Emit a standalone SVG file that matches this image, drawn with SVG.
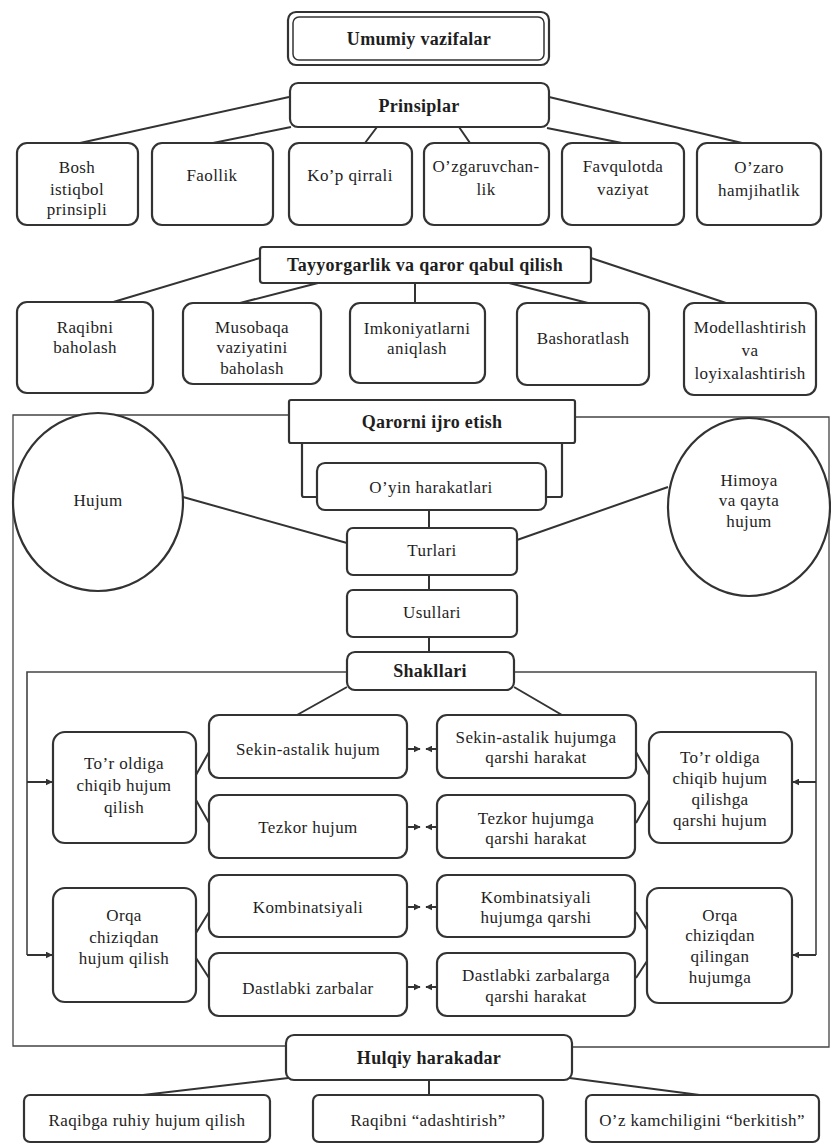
<svg xmlns="http://www.w3.org/2000/svg" width="831" height="1145" viewBox="0 0 831 1145" font-family="'Liberation Serif', 'Times New Roman', serif">
<defs>
<style>
.bg{fill:#fff}
.n{fill:#fff;stroke:#333;stroke-width:2.2}
.c{fill:none;stroke:#333;stroke-width:2}
.f{fill:none;stroke:#444;stroke-width:1.3}
text{font-family:"Liberation Serif","Times New Roman",serif;font-size:17px;letter-spacing:0.4px;fill:#1e1e1e;text-anchor:middle;dominant-baseline:central}
.b{font-weight:bold;font-size:18px;letter-spacing:0.3px}
</style>
<marker id="ah" viewBox="0 0 10 10" refX="9" refY="5" markerWidth="7" markerHeight="7" orient="auto" markerUnits="userSpaceOnUse">
<path d="M0,0 L10,5 L0,10 Z" fill="#333"/>
</marker>
</defs>
<rect class="bg" x="0" y="0" width="831" height="1145"/>

<g id="connectors">
<path class="c" d="M289,97 L80,143 M291,127 L213,143 M377,127 L365,143 M459,127 L470,143 M547,128 L622,143 M549,97 L742,143"/>
<path class="c" d="M260,258 L110,303 M318,283 L240,303 M415,283 L415,303 M509,283 L588,303 M591,258 L726,303"/>
<path class="f" d="M289,415 H13 V1046 H286 M572,1047 H829 V417 H575"/>
<path class="c" d="M429,510 V528 M183,497 L347,543 M517,540 L668,487 M429,575 V590 M429,637 V652 M347,687 L297,715 M514,687 L562,715"/>
<path class="f" style="stroke-width:1.6" d="M347,672 H27 V955 M514,672 H816 V955"/>
<line class="c" x1="27" y1="782" x2="52" y2="782" marker-end="url(#ah)"/>
<line class="c" x1="27" y1="955" x2="52" y2="955" marker-end="url(#ah)"/>
<line class="c" x1="816" y1="782" x2="793" y2="782" marker-end="url(#ah)"/>
<line class="c" x1="816" y1="955" x2="793" y2="955" marker-end="url(#ah)"/>
<path class="c" d="M196,775 L209,752 M196,800 L209,823 M636,752 L649,775 M636,823 L649,800 M196,933 L209,912 M196,958 L209,978 M636,912 L649,933 M636,978 L649,958"/>
<line class="c" x1="407" y1="749" x2="420" y2="749" marker-end="url(#ah)"/>
<line class="c" x1="437" y1="749" x2="426" y2="749" marker-end="url(#ah)"/>
<line class="c" x1="407" y1="827" x2="420" y2="827" marker-end="url(#ah)"/>
<line class="c" x1="437" y1="827" x2="426" y2="827" marker-end="url(#ah)"/>
<line class="c" x1="407" y1="907" x2="420" y2="907" marker-end="url(#ah)"/>
<line class="c" x1="437" y1="907" x2="426" y2="907" marker-end="url(#ah)"/>
<line class="c" x1="407" y1="987" x2="420" y2="987" marker-end="url(#ah)"/>
<line class="c" x1="437" y1="987" x2="426" y2="987" marker-end="url(#ah)"/>
<path class="c" d="M297,1077 L143,1095 M429,1080 V1095 M562,1077 L715,1097"/>
</g>

<g id="umumiy"><rect class="n" x="288" y="12" width="261" height="53" rx="8"/><rect class="n" x="293" y="17" width="251" height="43" rx="6" style="stroke-width:1.5"/><text class="b" x="419" y="39">Umumiy vazifalar</text></g>
<g id="prinsiplar"><rect class="n" x="290" y="83" width="259" height="44" rx="8"/><text class="b" x="419" y="106">Prinsiplar</text></g>

<g id="bosh"><rect class="n" x="17" y="143" width="121" height="82" rx="10"/><text x="77" y="167">Bosh</text><text x="77" y="189">istiqbol</text><text x="77" y="209">prinsipli</text></g>
<g id="faollik"><rect class="n" x="152" y="143" width="121" height="82" rx="10"/><text x="212" y="175">Faollik</text></g>
<g id="kop"><rect class="n" x="289" y="143" width="123" height="82" rx="10"/><text x="350" y="175">Ko’p qirrali</text></g>
<g id="ozgaruvchan"><rect class="n" x="424" y="143" width="125" height="82" rx="10"/><text x="486" y="166">O’zgaruvchan-</text><text x="486" y="189">lik</text></g>
<g id="favqulotda"><rect class="n" x="562" y="143" width="122" height="82" rx="10"/><text x="623" y="166">Favqulotda</text><text x="623" y="189">vaziyat</text></g>
<g id="ozaro"><rect class="n" x="697" y="143" width="124" height="82" rx="10"/><text x="759" y="167">O’zaro</text><text x="759" y="190">hamjihatlik</text></g>

<g id="tayyorgarlik"><rect class="n" x="260" y="247" width="331" height="36" rx="3"/><text class="b" x="425" y="265">Tayyorgarlik va qaror qabul qilish</text></g>

<g id="raqibni"><rect class="n" x="17" y="302" width="136" height="91" rx="10"/><text x="85" y="327">Raqibni</text><text x="85" y="347">baholash</text></g>
<g id="musobaqa"><rect class="n" x="183" y="303" width="138" height="81" rx="10"/><text x="252" y="327">Musobaqa</text><text x="252" y="347">vaziyatini</text><text x="252" y="368">baholash</text></g>
<g id="imkoniyat"><rect class="n" x="350" y="303" width="135" height="80" rx="10"/><text x="417" y="328">Imkoniyatlarni</text><text x="417" y="348">aniqlash</text></g>
<g id="bashorat"><rect class="n" x="517" y="303" width="132" height="82" rx="10"/><text x="583" y="338">Bashoratlash</text></g>
<g id="modellash"><rect class="n" x="684" y="303" width="132" height="92" rx="10"/><text x="750" y="327">Modellashtirish</text><text x="750" y="350">va</text><text x="750" y="373">loyixalashtirish</text></g>

<g id="hujum"><ellipse class="n" cx="98" cy="502" rx="85" ry="89"/><text x="98" y="500">Hujum</text></g>
<g id="himoya"><ellipse class="n" cx="749" cy="507" rx="81" ry="89"/><text x="749" y="480">Himoya</text><text x="749" y="500">va qayta</text><text x="749" y="521">hujum</text></g>

<g id="qarorni"><rect class="n" x="302" y="440" width="260" height="57" rx="2"/><rect class="n" x="289" y="400" width="286" height="43" rx="2"/><text class="b" x="432" y="422">Qarorni ijro etish</text></g>
<g id="oyin"><rect class="n" x="317" y="463" width="229" height="47" rx="8"/><text x="431" y="487">O’yin harakatlari</text></g>
<g id="turlari"><rect class="n" x="347" y="528" width="170" height="47" rx="6"/><text x="432" y="550">Turlari</text></g>
<g id="usullari"><rect class="n" x="347" y="590" width="170" height="47" rx="6"/><text x="432" y="612">Usullari</text></g>
<g id="shakllari"><rect class="n" x="347" y="652" width="167" height="38" rx="8"/><text class="b" x="430" y="671">Shakllari</text></g>

<g id="torleft"><rect class="n" x="53" y="732" width="143" height="111" rx="12"/><text x="124" y="763">To’r oldiga</text><text x="124" y="785">chiqib hujum</text><text x="124" y="807">qilish</text></g>
<g id="sekin"><rect class="n" x="209" y="715" width="198" height="63" rx="10"/><text x="308" y="749">Sekin-astalik hujum</text></g>
<g id="sekinq"><rect class="n" x="437" y="715" width="199" height="63" rx="10"/><text x="536" y="737">Sekin-astalik hujumga</text><text x="536" y="757">qarshi harakat</text></g>
<g id="torright"><rect class="n" x="649" y="732" width="143" height="111" rx="12"/><text x="720" y="757">To’r oldiga</text><text x="720" y="778">chiqib hujum</text><text x="720" y="799">qilishga</text><text x="720" y="820">qarshi hujum</text></g>
<g id="tezkor"><rect class="n" x="209" y="795" width="198" height="63" rx="10"/><text x="308" y="827">Tezkor hujum</text></g>
<g id="tezkorq"><rect class="n" x="437" y="795" width="198" height="63" rx="10"/><text x="536" y="818">Tezkor hujumga</text><text x="536" y="838">qarshi harakat</text></g>

<g id="orqaleft"><rect class="n" x="53" y="888" width="143" height="114" rx="12"/><text x="124" y="915">Orqa</text><text x="124" y="937">chiziqdan</text><text x="124" y="958">hujum qilish</text></g>
<g id="kombi"><rect class="n" x="209" y="875" width="198" height="62" rx="10"/><text x="308" y="907">Kombinatsiyali</text></g>
<g id="kombiq"><rect class="n" x="437" y="875" width="198" height="62" rx="10"/><text x="536" y="897">Kombinatsiyali</text><text x="536" y="917">hujumga qarshi</text></g>
<g id="orqaright"><rect class="n" x="647" y="888" width="145" height="115" rx="12"/><text x="720" y="915">Orqa</text><text x="720" y="935">chiziqdan</text><text x="720" y="956">qilingan</text><text x="720" y="977">hujumga</text></g>
<g id="dastlabki"><rect class="n" x="209" y="953" width="198" height="63" rx="10"/><text x="308" y="988">Dastlabki zarbalar</text></g>
<g id="dastlabkiq"><rect class="n" x="437" y="953" width="198" height="63" rx="10"/><text x="536" y="975">Dastlabki zarbalarga</text><text x="536" y="996">qarshi harakat</text></g>

<g id="hulqiy"><rect class="n" x="286" y="1035" width="286" height="45" rx="8"/><text class="b" x="429" y="1058">Hulqiy harakadar</text></g>
<g id="ruhiy"><rect class="n" x="24" y="1095" width="246" height="47" rx="6"/><text x="147" y="1120">Raqibga ruhiy hujum qilish</text></g>
<g id="adashtirish"><rect class="n" x="313" y="1095" width="230" height="47" rx="6"/><text x="428" y="1120">Raqibni “adashtirish”</text></g>
<g id="berkitish"><rect class="n" x="586" y="1095" width="233" height="47" rx="6"/><text x="702" y="1120">O’z kamchiligini “berkitish”</text></g>
</svg>
